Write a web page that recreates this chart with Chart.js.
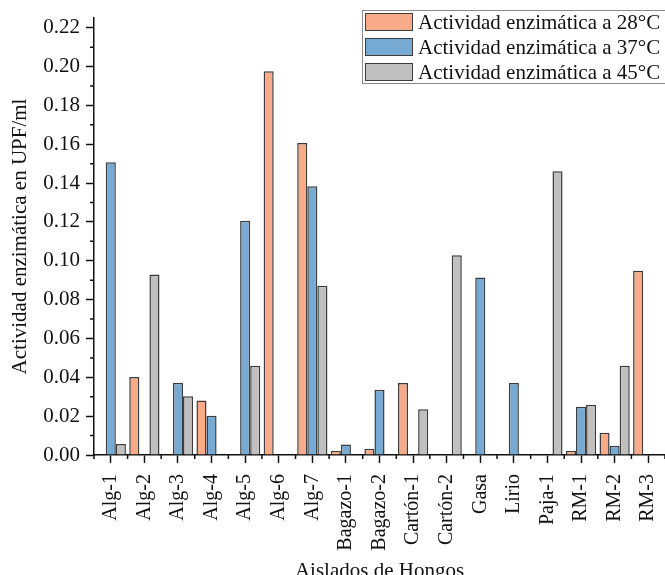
<!DOCTYPE html>
<html>
<head>
<meta charset="utf-8">
<script src="https://cdn.jsdelivr.net/npm/chart.js@4.4.1/dist/chart.umd.min.js"></script>
<style>
    body { margin: 0; background: #fff; }
    #wrap { position: relative; width: 665px; height: 575px; overflow: hidden; }
    #legend {
        position: absolute; left: 362px; top: 10px; width: 306px; height: 74px;
        border: 1px solid #8a8a8a; background: #fff; box-sizing: border-box;
        font-family: "Liberation Serif", serif; font-size: 21px; color: #111;
    }
    .item { position: absolute; left: 2px; height: 18px; display: flex; align-items: center; white-space: nowrap; }
    .swatch { width: 46px; height: 16px; border: 1.5px solid #3c3c3c; margin-right: 5px; flex: none; }
</style>
</head>
<body>
<div id="wrap">
    <canvas id="chart" width="665" height="575"></canvas>
    <div id="legend"></div>
</div>
<script>
const categories = ['Alg-1', 'Alg-2', 'Alg-3', 'Alg-4', 'Alg-5', 'Alg-6', 'Alg-7', 'Bagazo-1', 'Bagazo-2',
    'Cartón-1', 'Cartón-2', 'Gasa', 'Lirio', 'Paja-1', 'RM-1', 'RM-2', 'RM-3'];

const seriesLabels = ['Actividad enzimática a 28°C', 'Actividad enzimática a 37°C', 'Actividad enzimática a 45°C'];
const seriesColors = ['#f8ab89', '#76aad3', '#c0c0c0'];

const act28 = [null, 0.0402, null, 0.0281, null, 0.1976, 0.1607, 0.0022, 0.0032, 0.0371, null, null, null, null, 0.0022, 0.0115, 0.0949];
const act37 = [0.1507, null, 0.0372, 0.0202, 0.1206, null, 0.1384, 0.0054, 0.0336, null, null, 0.0914, 0.0371, null, 0.0248, 0.0048, null];
const act45 = [0.0056, 0.0929, 0.0302, null, 0.0459, null, 0.0872, null, null, 0.0235, 0.1028, null, null, 0.1461, 0.0259, 0.0459, null];

const yTicks = [0, 0.02, 0.04, 0.06, 0.08, 0.10, 0.12, 0.14, 0.16, 0.18, 0.20, 0.22];

const serif = "'Liberation Serif', 'Times New Roman', serif";
const textColor = '#111';

// Minor ticks: category boundaries on x, odd hundredths on y
const minorTicks = {
    id: 'minorTicks',
    afterDraw(chart) {
        const { ctx, scales: { x, y } } = chart;
        ctx.save();
        ctx.strokeStyle = '#111';
        ctx.lineWidth = 1.5;
        ctx.beginPath();
        const step = x.width / categories.length;
        for (let i = 0; i <= categories.length; i++) {
            const px = x.left + i * step;
            ctx.moveTo(px, y.bottom);
            ctx.lineTo(px, y.bottom + 4);
        }
        for (let v = 0.01; v < y.max; v += 0.02) {
            const py = y.getPixelForValue(v);
            ctx.moveTo(x.left, py);
            ctx.lineTo(x.left - 4, py);
        }
        ctx.stroke();
        ctx.restore();
    }
};

const datasets = [act28, act37, act45].map((data, i) => ({
    label: seriesLabels[i],
    data: data,
    backgroundColor: seriesColors[i],
    borderColor: '#3c3c3c',
    borderWidth: 1.5,
    categoryPercentage: 0.9,
    barPercentage: 1.0
}));

const chart = new Chart(document.getElementById('chart'), {
    type: 'bar',
    data: { labels: categories, datasets: datasets },
    options: {
        responsive: false,
        animation: false,
        layout: { padding: { top: 18, right: 0, bottom: 0, left: 0 } },
        plugins: { legend: { display: false }, tooltip: { enabled: false } },
        scales: {
            x: {
                afterFit: (scale) => {
                    scale.height = 120;
                    scale.paddingLeft = 0;
                    scale.paddingRight = 0;
                },
                grid: { display: true, drawOnChartArea: false, offset: false, tickLength: 8, tickColor: '#111', tickWidth: 1.5 },
                border: { display: true, color: '#111', width: 1.5 },
                ticks: {
                    autoSkip: false, minRotation: 90, maxRotation: 90, padding: 11,
                    color: textColor, font: { family: serif, size: 20 }
                },
                title: {
                    display: true, text: 'Aislados de Hongos', color: textColor,
                    font: { family: serif, size: 21 }, padding: { top: 0, bottom: -9 }
                }
            },
            y: {
                min: 0,
                max: 0.225,
                afterFit: (scale) => {
                    scale.width = 94;
                    scale.paddingTop = 0;
                    scale.paddingBottom = 0;
                },
                afterBuildTicks: (scale) => { scale.ticks = yTicks.map(v => ({ value: v })); },
                grid: { display: true, drawOnChartArea: false, tickLength: 8, tickColor: '#111', tickWidth: 1.5 },
                border: { display: true, color: '#111', width: 1.5 },
                ticks: {
                    padding: 6, color: textColor, font: { family: serif, size: 21 },
                    callback: (v) => Number(v).toFixed(2)
                },
                title: {
                    display: true, text: 'Actividad enzimática en UPF/ml', color: textColor,
                    font: { family: serif, size: 21 }, padding: { top: 8, bottom: 0 }
                }
            }
        }
    },
    plugins: [minorTicks]
});

// Legend box drawn over the plot, top right
const legend = document.getElementById('legend');
chart.data.datasets.forEach((ds, i) => {
    const item = document.createElement('div');
    item.className = 'item';
    item.style.top = (2 + i * 25) + 'px';
    const sw = document.createElement('span');
    sw.className = 'swatch';
    sw.style.background = ds.backgroundColor;
    const txt = document.createElement('span');
    txt.textContent = ds.label;
    item.appendChild(sw);
    item.appendChild(txt);
    legend.appendChild(item);
});
</script>
</body>
</html>
